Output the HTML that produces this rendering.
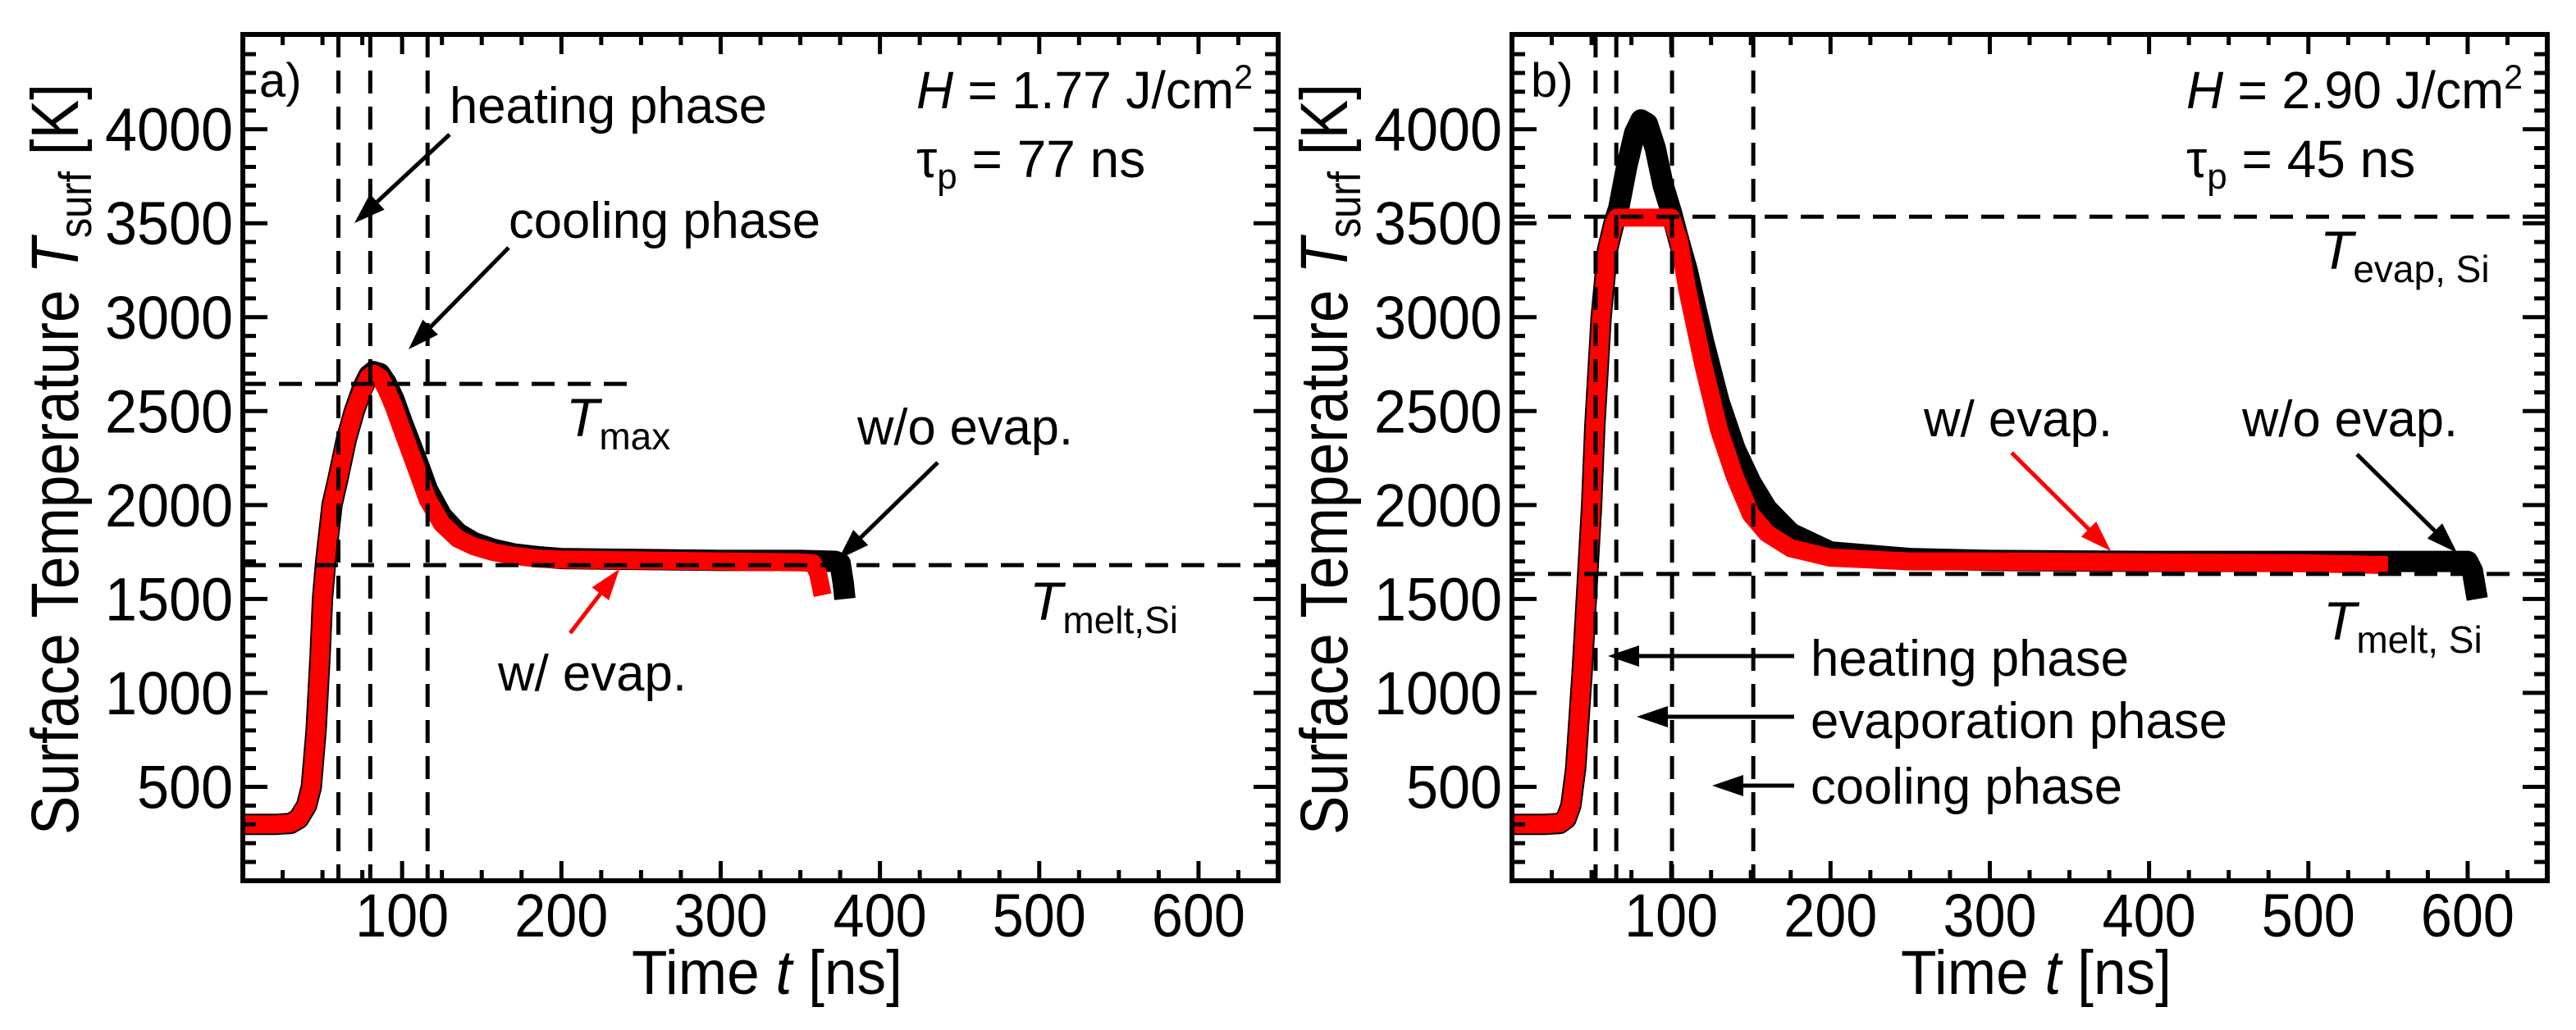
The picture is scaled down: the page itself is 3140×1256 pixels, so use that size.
<!DOCTYPE html>
<html><head><meta charset="utf-8"><style>
html,body{margin:0;padding:0;background:#fff;overflow:hidden}
svg{display:block}
text{font-family:"Liberation Sans",Arial,sans-serif;fill:#000}
</style></head><body>
<svg id="chart" width="3140" height="1256" viewBox="0 0 3140 1256" xmlns="http://www.w3.org/2000/svg">
<g id="pa"></g>
<g id="pb"></g>
</svg>
<script>
// ---- data ----
const xTicks = [100,200,300,400,500,600];
const yTicks = [500,1000,1500,2000,2500,3000,3500,4000];
const aRedT = [0,20,30,35,40,43,46,48.5,50,52,56,60,65,70,75,79,82,86,90,95,100,110,116,125,135,145,157,170,185,200,250,300,350,358,361,363,364];
const aRedV = [300,300,305,330,400,500,800,1200,1500,1700,2000,2150,2350,2500,2610,2680,2700,2680,2620,2520,2400,2170,2030,1900,1820,1780,1750,1730,1715,1710,1705,1700,1695,1690,1640,1560,1520];
const aBlkT = [0,20,30,35,40,43,46,48.5,50,52,56,60,65,70,75,79,82,86,90,95,100,110,116,125,135,145,157,170,185,200,250,300,350,372,375,377,378];
const aBlkV = [300,300,305,330,400,500,800,1200,1500,1700,2000,2150,2350,2500,2620,2690,2710,2700,2650,2560,2440,2220,2080,1940,1850,1800,1765,1740,1725,1715,1710,1705,1705,1700,1690,1580,1500];
const bRedT = [0,20,30,34,37,40,44,47,50,52,56,60,64,66,80,100,105,110,120,130,140,150,160,175,200,250,300,400,500,550];
const bRedV = [300,300,305,330,400,600,1100,1550,2000,2420,3000,3360,3500,3530,3530,3530,3400,3150,2750,2400,2150,1950,1850,1770,1720,1700,1700,1695,1690,1680];
const bBlkT = [0,20,30,34,37,40,44,47,50,52,56,60,64,67,72,77,81,85,90,95,100,105,110,120,130,140,150,160,175,200,250,300,400,500,600,603,606];
const bBlkV = [300,300,305,330,400,600,1100,1550,2000,2420,3000,3360,3500,3580,3800,3980,4050,4030,3900,3700,3560,3400,3250,2880,2550,2300,2120,1980,1850,1750,1715,1705,1700,1700,1700,1650,1500];
const aVLines = [60,80,116];
const aTmax = 2645, aTmelt = 1680;
const bVLines = [52.5,65.5,100.5,151.5];
const bTevap = 3535, bTmelt = 1633;

const NS="http://www.w3.org/2000/svg";
function el(parent,tag,attrs){const e=document.createElementNS(NS,tag);for(const k in attrs)e.setAttribute(k,attrs[k]);parent.appendChild(e);return e;}

const TOP=42,BOT=1074,YMAX=4505;
function makePanel(left,right){
  const xs=v=>left+(v/650)*(right-left);
  const ys=v=>BOT-(v/YMAX)*(BOT-TOP);
  return {xs,ys,left,right};
}
function ticks(g,P){
  const tg=el(g,'g',{stroke:'#000','stroke-width':5});
  
  
  for(let v=25;v<650;v+=25){
    const L=(v%100===0)?24:13;const x=P.xs(v);
    el(tg,'line',{x1:x,y1:BOT,x2:x,y2:BOT-L});
    el(tg,'line',{x1:x,y1:TOP,x2:x,y2:TOP+L});
  }
  for(let v=100;v<4500;v+=100){
    const L=(v%500===0)?30:16;const y=P.ys(v);
    el(tg,'line',{x1:P.left,y1:y,x2:P.left+L,y2:y});
    el(tg,'line',{x1:P.right,y1:y,x2:P.right-L,y2:y});
  }
  xTicks.forEach(v=>{
    const t=el(g,'text',{x:P.xs(v),y:1142,'text-anchor':'middle','font-size':74,textLength:(String(v).length*38),lengthAdjust:'spacingAndGlyphs'});
    t.textContent=v;
    
    
  });
  yTicks.forEach(v=>{
    const s=String(v);
    const t=el(g,'text',{x:P.left-12,y:P.ys(v)+26,'text-anchor':'end','font-size':74,textLength:(s.length*39),lengthAdjust:'spacingAndGlyphs'});
    t.textContent=s;
    
    
  });
}
function curve(g,P,T,V,color,w,name){
  const pts=T.map((t,i)=>P.xs(t).toFixed(1)+','+P.ys(V[i]).toFixed(1)).join(' ');
  const p=el(g,'polyline',{points:pts,fill:'none',stroke:color,'stroke-width':w,'stroke-linejoin':'round','stroke-linecap':'butt'});
  
  
}
function dash(g,x1,y1,x2,y2,name){
  const l=el(g,'line',{x1,y1,x2,y2,stroke:'#000','stroke-width':5,'stroke-dasharray':'28 16'});
  
  
}
function txt(g,s,x,y,size,opts,name){
  const t=el(g,'text',Object.assign({x,y,'font-size':size},opts||{}));
  t.textContent=s;
  
  
  return t;
}
function arrow(g,x1,y1,x2,y2,color,name){
  const a=Math.atan2(y2-y1,x2-x1),L=38,W=13;
  const bx=x2-L*Math.cos(a),by=y2-L*Math.sin(a);
  const grp=el(g,'g',{});
  
  
  el(grp,'line',{x1,y1,x2:bx,y2:by,stroke:color,'stroke-width':5});
  el(grp,'polygon',{points:`${x2},${y2} ${bx+W*Math.sin(a)},${by-W*Math.cos(a)} ${bx-W*Math.sin(a)},${by+W*Math.cos(a)}`,fill:color});
}
function frame(g,P){
  const r=el(g,'rect',{x:P.left,y:TOP,width:P.right-P.left,height:BOT-TOP,fill:'none',stroke:'#000','stroke-width':6});
  
  
}
function axisTitles(g,P,cx){
  const yt=el(g,'text',{transform:`translate(${cx},560) rotate(-90)`,'text-anchor':'middle','font-size':82,textLength:916,lengthAdjust:'spacingAndGlyphs'});
  
  
  yt.innerHTML='Surface Temperature <tspan font-style="italic">T</tspan><tspan font-size="56" dy="16">surf</tspan><tspan dy="-16"> [K]</tspan>';
  const xt=el(g,'text',{x:(P.left+P.right)/2+8,y:1212,'text-anchor':'middle','font-size':76,textLength:330,lengthAdjust:'spacingAndGlyphs'});
  
  
  xt.innerHTML='Time <tspan font-style="italic">t</tspan> [ns]';
}
function sub(g,x,y,main,subs,name){
  const t=txt(g,'',x,y,66,{},name);
  t.innerHTML='<tspan font-style="italic">'+main+'</tspan><tspan font-size="46" dy="16">'+subs+'</tspan>';
}

// Panel a
(function(){
  const g=document.getElementById('pa');
  const P=makePanel(296,1558);
  curve(g,P,aBlkT,aBlkV,'#000',26,'series-a-without-evap');
  curve(g,P,aRedT,aRedV,'#ff0000',22,'series-a-with-evap');
  aVLines.forEach(v=>dash(g,P.xs(v),TOP,P.xs(v),BOT,'phase-line'));
  dash(g,P.left,P.ys(aTmax),770,P.ys(aTmax),'tmax-line');
  dash(g,P.left,P.ys(aTmelt),P.right,P.ys(aTmelt),'tmelt-line');
  ticks(g,P);frame(g,P);axisTitles(g,P,95);
  txt(g,'a)',316,118,58,{},'panel-label-a');
  txt(g,'heating phase',548,150,62,{textLength:387,lengthAdjust:'spacingAndGlyphs'},'heating-phase-label');
  arrow(g,548,164,432,272,'#000','heating-arrow');
  txt(g,'cooling phase',620,290,62,{textLength:380,lengthAdjust:'spacingAndGlyphs'},'cooling-phase-label');
  arrow(g,620,302,498,426,'#000','cooling-arrow');
  sub(g,690,532,'T','max','tmax-label');
  txt(g,'w/o evap.',1045,542,62,{textLength:263,lengthAdjust:'spacingAndGlyphs'},'without-evap-label');
  arrow(g,1143,564,1022,682,'#000','without-evap-arrow');
  txt(g,'w/ evap.',607,842,62,{fill:'#ff0000',textLength:230,lengthAdjust:'spacingAndGlyphs'},'with-evap-label');
  arrow(g,695,772,755,694,'#ff0000','with-evap-arrow');
  sub(g,1255,756,'T','melt,Si','tmelt-label');
  const h=txt(g,'',1117,132,64,{textLength:410,lengthAdjust:'spacingAndGlyphs'},'fluence-label');h.innerHTML='<tspan font-style="italic">H</tspan> = 1.77 J/cm<tspan font-size="42" dy="-24">2</tspan>';
  const tp=txt(g,'',1117,216,64,{},'pulse-label');tp.innerHTML='τ<tspan font-size="44" dy="14">p</tspan><tspan dy="-14"> = 77 ns</tspan>';
})();

// Panel b
(function(){
  const g=document.getElementById('pb');
  const P=makePanel(1843,3105);
  curve(g,P,bBlkT,bBlkV,'#000',26,'series-b-without-evap');
  curve(g,P,bRedT,bRedV,'#ff0000',22,'series-b-with-evap');
  bVLines.forEach(v=>dash(g,P.xs(v),TOP,P.xs(v),BOT,'phase-line'));
  dash(g,P.left,P.ys(bTevap),P.right,P.ys(bTevap),'tevap-line');
  dash(g,P.left,P.ys(bTmelt),P.right,P.ys(bTmelt),'tmelt-line');
  ticks(g,P);frame(g,P);axisTitles(g,P,1642);
  txt(g,'b)',1866,118,58,{},'panel-label-b');
  sub(g,2828,328,'T','evap, Si','tevap-label');
  sub(g,2832,780,'T','melt, Si','tmelt-label');
  txt(g,'w/ evap.',2345,532,62,{fill:'#ff0000',textLength:230,lengthAdjust:'spacingAndGlyphs'},'with-evap-label');
  arrow(g,2452,552,2573,672,'#ff0000','with-evap-arrow');
  txt(g,'w/o evap.',2733,532,62,{textLength:263,lengthAdjust:'spacingAndGlyphs'},'without-evap-label');
  arrow(g,2873,554,2995,674,'#000','without-evap-arrow');
  txt(g,'heating phase',2207,824,62,{textLength:388,lengthAdjust:'spacingAndGlyphs'},'heating-phase-label');
  arrow(g,2187,800,1960,800,'#000','heating-arrow');
  txt(g,'evaporation phase',2207,900,62,{textLength:508,lengthAdjust:'spacingAndGlyphs'},'evaporation-phase-label');
  arrow(g,2187,874,1995,874,'#000','evaporation-arrow');
  txt(g,'cooling phase',2207,980,62,{textLength:380,lengthAdjust:'spacingAndGlyphs'},'cooling-phase-label');
  arrow(g,2187,958,2087,958,'#000','cooling-arrow');
  const h=txt(g,'',2665,132,64,{textLength:410,lengthAdjust:'spacingAndGlyphs'},'fluence-label');h.innerHTML='<tspan font-style="italic">H</tspan> = 2.90 J/cm<tspan font-size="42" dy="-24">2</tspan>';
  const tp=txt(g,'',2665,216,64,{},'pulse-label');tp.innerHTML='τ<tspan font-size="44" dy="14">p</tspan><tspan dy="-14"> = 45 ns</tspan>';
})();
</script>
</body></html>
